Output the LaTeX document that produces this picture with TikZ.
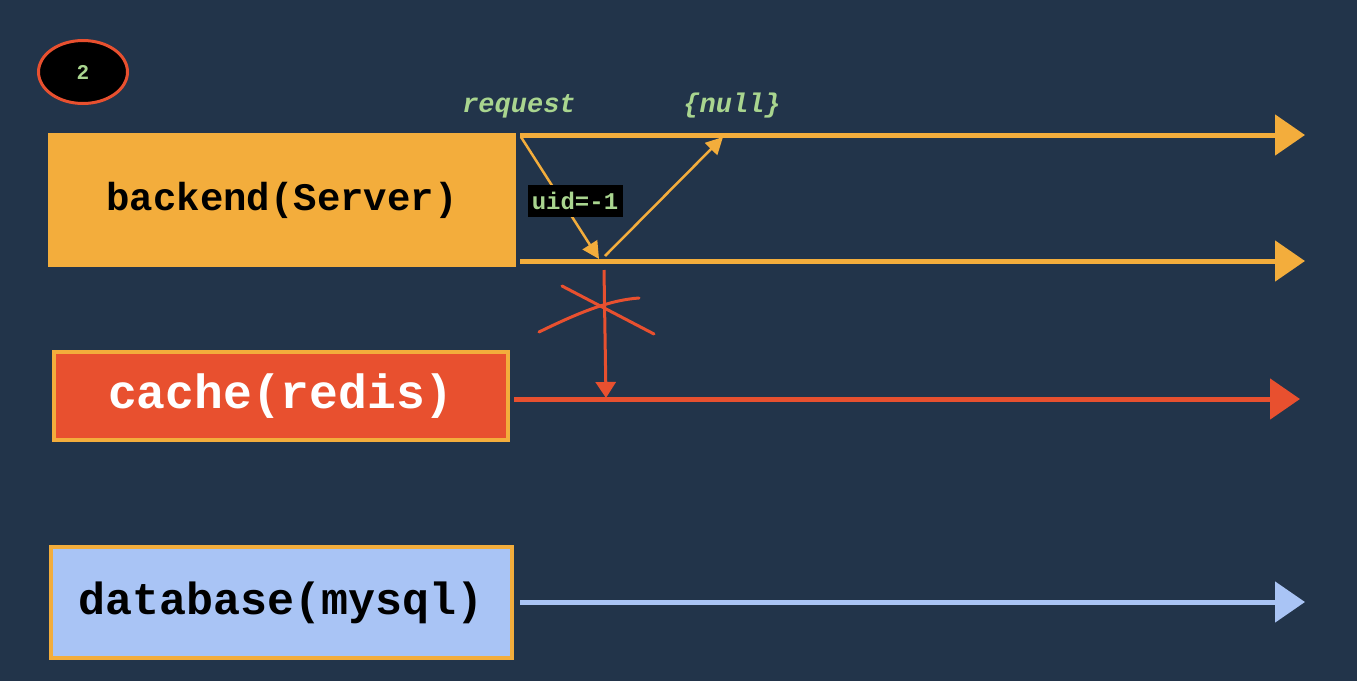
\documentclass[tikz,border=0pt]{standalone}
\usepackage{fontspec}
\newfontfamily\codefont{Liberation Mono}
\usetikzlibrary{arrows.meta,shapes.geometric}
\definecolor{bgnavy}{HTML}{22344A}
\definecolor{serverorange}{HTML}{F3AD3C}
\definecolor{redisred}{HTML}{E8502F}
\definecolor{mysqlblue}{HTML}{A9C4F5}
\definecolor{labelgreen}{HTML}{A9D58F}
\begin{document}
\begin{tikzpicture}[x=1pt,y=-1pt,
    box/.style={rectangle,inner sep=0pt,font=\codefont\bfseries},
    timeline/.style={line width=5pt,-{Triangle[length=30pt,width=40pt]}},
    msg/.style={serverorange,line width=2.5pt,-{Triangle[length=17pt,width=17pt]}},
    note/.style={font=\codefont\itshape\bfseries\fontsize{27}{27}\selectfont,text=labelgreen}]
  \fill[bgnavy] (0,0) rectangle (1357,681);
  \useasboundingbox (0,0) rectangle (1357,681);
  % step badge
  \node[ellipse,draw=redisred,line width=3pt,fill=black,minimum width=89pt,minimum height=63pt,
    text=labelgreen,font=\codefont\bfseries\fontsize{21}{21}\selectfont] (step) at (83,72) {2};
  % participants
  \node[box,fill=serverorange,minimum width=468pt,minimum height=134pt,
    font=\codefont\bfseries\fontsize{39}{39}\selectfont] (backend) at (282,200) {backend(Server)};
  \node[box,fill=redisred,draw=serverorange,line width=4pt,minimum width=454pt,minimum height=88pt,
    text=white,font=\codefont\bfseries\fontsize{48}{48}\selectfont] (cache) at (281,396) {cache(redis)};
  \node[box,fill=mysqlblue,draw=serverorange,line width=4pt,minimum width=461pt,minimum height=111pt,
    font=\codefont\bfseries\fontsize{45}{45}\selectfont] (database) at (281.5,602.5) {database(mysql)};
  % timeline ends
  \coordinate (t1) at (1305,135);
  \coordinate (t2) at (1305,261);
  \coordinate (t3) at (1300,399);
  \coordinate (t4) at (1305,602);
  \coordinate (s1) at (520,135);
  \coordinate (s2) at (520,261);
  \draw[timeline,serverorange] (s1) -- (t1);
  \draw[timeline,serverorange] (s2) -- (t2);
  \draw[timeline,redisred] (cache.east |- t3) ++(4,0) coordinate (s3) -- (t3);
  \draw[timeline,mysqlblue] (database.east |- t4) ++(6,0) coordinate (s4) -- (t4);
  % request and reply
  \coordinate (hit) at (599,259);
  \coordinate (back) at (605,256);
  \coordinate (reply) at (723,137);
  \coordinate (miss) at (604,270);
  \coordinate (store) at (606,398);
  \draw[msg] (s1) ++(1,2) -- (hit);
  \draw[msg] (back) -- (reply);
  \draw[redisred,line width=3pt,-{Triangle[length=16pt,width=20pt]}] (miss) -- (store);
  \draw[redisred,line width=3pt,line cap=round] (539,332) .. controls (580,312) and (610,300) .. (639,298);
  \draw[redisred,line width=3pt,line cap=round] (562,286) -- (654,334);
  % labels
  \node[note] (request) at (519,106) {request};
  \node[note] (null) at (732,106) {\{null\}};
  \node[fill=black,inner sep=0pt,minimum width=95pt,minimum height=32pt,text=labelgreen,
    font=\codefont\bfseries\fontsize{24}{24}\selectfont] (uid) at (575,201) {uid=-1};
\end{tikzpicture}
\end{document}
